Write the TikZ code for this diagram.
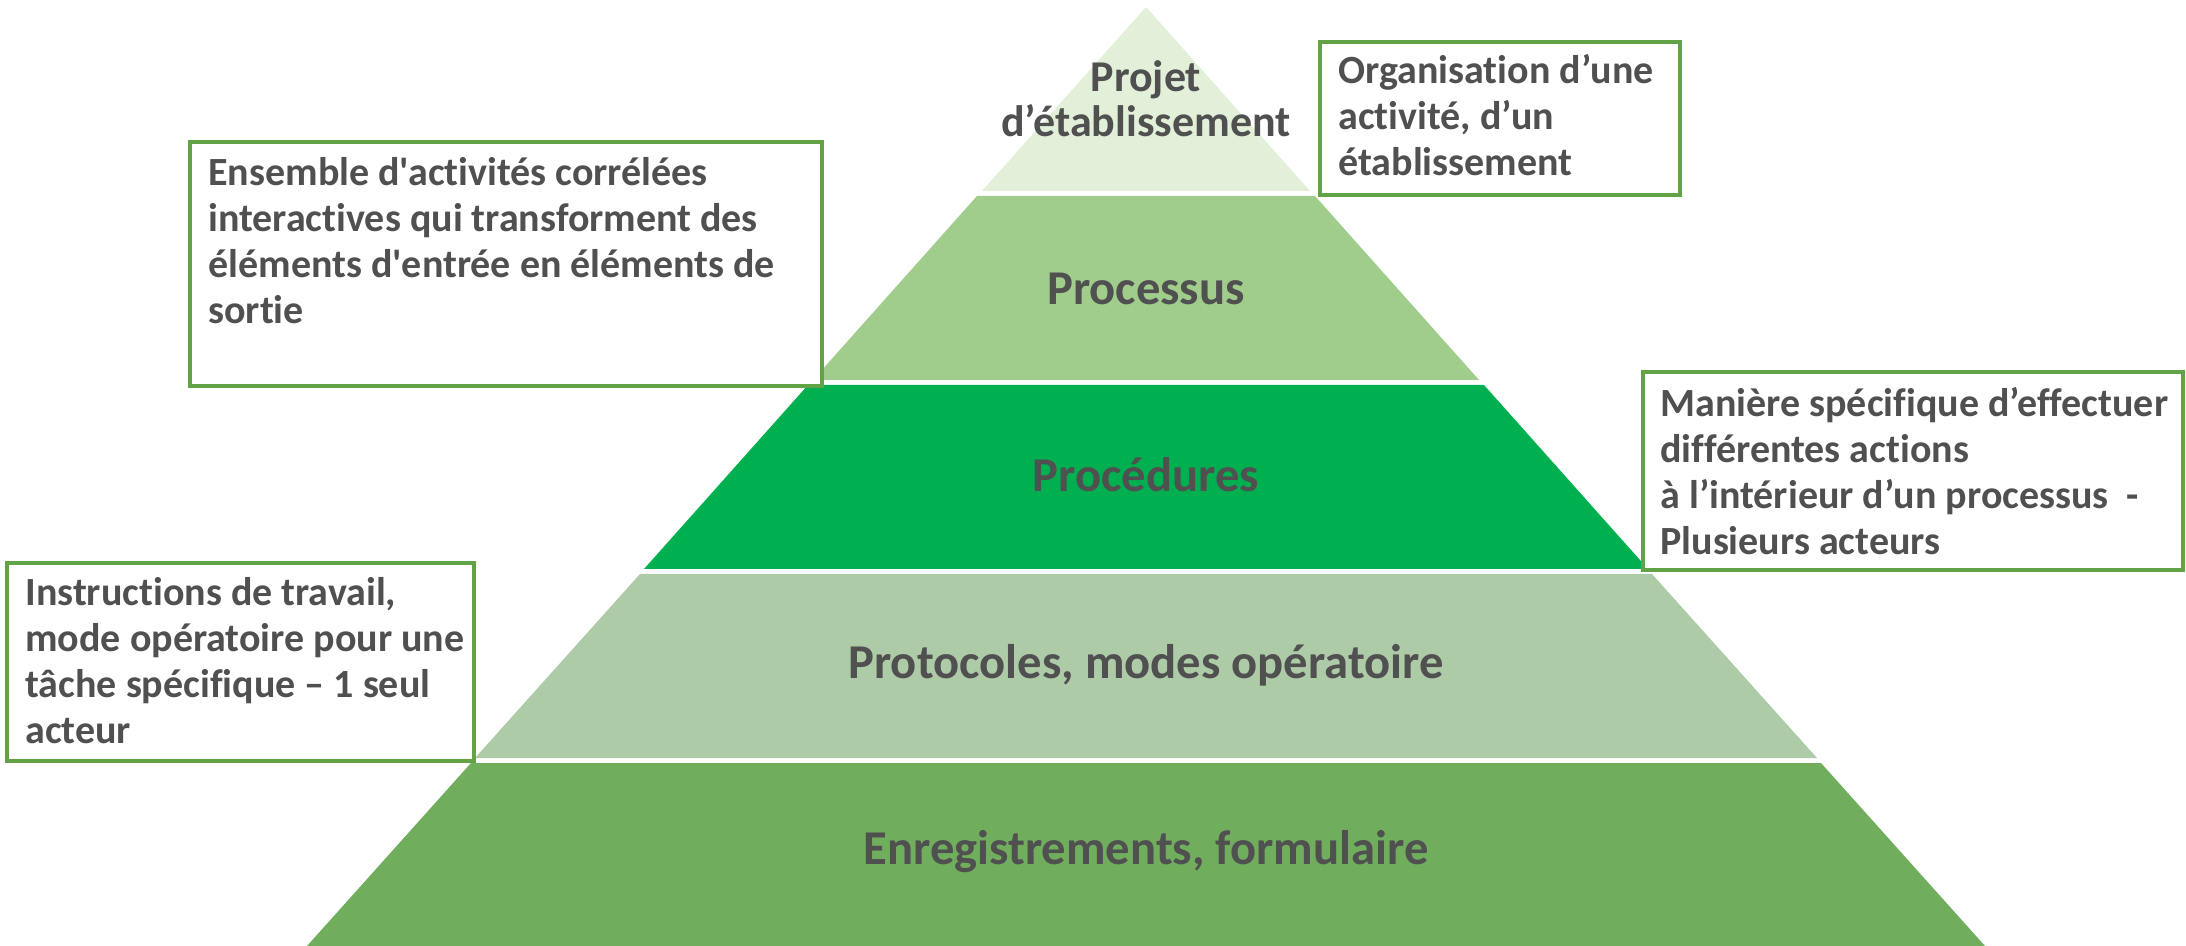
\documentclass[tikz,border=0pt]{standalone}
\usepackage{fontspec}
\setmainfont{Carlito}[Ligatures={NoCommon,TeXOff}]
\definecolor{tone}{RGB}{226,240,217}
\definecolor{ttwo}{RGB}{160,205,140}
\definecolor{tthree}{RGB}{0,176,80}
\definecolor{tfour}{RGB}{174,203,168}
\definecolor{tfive}{RGB}{112,174,94}
\definecolor{boxgreen}{RGB}{98,163,72}
\definecolor{txt}{RGB}{80,80,80}
\begin{document}
\begin{tikzpicture}[x=0.5pt,y=-0.5pt,
  tier/.style={fill=#1,draw=none},
  tierlabel/.style={text=txt,font=\bfseries\fontsize{24.3}{26}\selectfont,align=center},
  framebox/.style={draw=boxgreen,line width=2pt,fill=white},
  boxtext/.style={text=txt,font=\bfseries\fontsize{20}{23}\selectfont,align=left,anchor=north west,inner sep=0pt}]
\useasboundingbox (0,0) rectangle (2186,946);
% pyramid tiers
\fill[tier=tone] (1146,7) -- (1310,191) -- (982,191) -- cycle;
\fill[tier=ttwo] (977,196) -- (1315,196) -- (1479,380) -- (813,380) -- cycle;
\fill[tier=tthree] (808,385) -- (1484,385) -- (1648,569) -- (644,569) -- cycle;
\fill[tier=tfour] (640,574) -- (1652,574) -- (1817,758) -- (475,758) -- cycle;
\fill[tier=tfive] (471,763) -- (1821,763) -- (1985,946) -- (307,946) -- cycle;
% tier labels
\node[tierlabel,font=\bfseries\fontsize{22}{22.5}\selectfont] (l1) at (1146,99) {Projet\\d’établissement};
\node[tierlabel] (l2) at (1146,289) {Processus};
\node[tierlabel] (l3) at (1146,475) {Procédures};
\node[tierlabel] (l4) at (1146,665) {Protocoles, modes opératoire};
\node[tierlabel] (l5) at (1146,852) {Enregistrements, formulaire};
% boxes
\draw[framebox] (1320,42) rectangle (1680,195);
\node[boxtext] (ta) at (1338,54) {Organisation d’une\\activité, d’un\\établissement};
\draw[framebox] (190,142) rectangle (822,386);
\node[boxtext] (tb) at (208,157) {Ensemble d'activités corrélées\\interactives qui transforment des\\éléments d'entrée en éléments de\\sortie};
\draw[framebox] (1643,372) rectangle (2183,570);
\node[boxtext] (tc) at (1660,387) {Manière spécifique d’effectuer\\différentes actions\\à l’intérieur d’un processus\ \ -\\Plusieurs acteurs};
\draw[framebox] (7,563) rectangle (474,761);
\node[boxtext] (td) at (25,577) {Instructions de travail,\\mode opératoire pour une\\tâche spécifique – 1 seul\\acteur};
\end{tikzpicture}
\end{document}
